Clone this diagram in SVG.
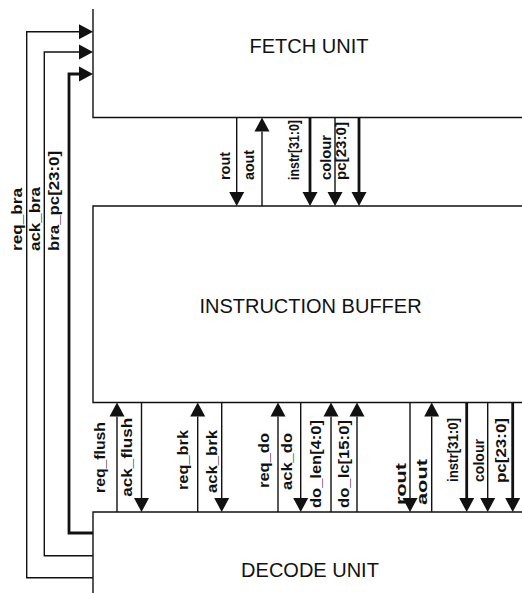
<svg xmlns="http://www.w3.org/2000/svg" width="522" height="593" viewBox="0 0 522 593">
<style>
.box{fill:none;stroke:#111;stroke-width:1.4}
.w{fill:none;stroke:#111;stroke-width:1.4}
.bus{fill:none;stroke:#111;stroke-width:2.8}
.lab{font-family:"Liberation Sans",Arial,sans-serif;font-size:15px;font-weight:bold;fill:#111}
.title{font-family:"Liberation Sans",Arial,sans-serif;font-size:20px;fill:#111;text-anchor:middle}
</style>
<defs>
<marker id="ah" markerUnits="userSpaceOnUse" markerWidth="16" markerHeight="16" refX="0" refY="7.5" orient="auto" overflow="visible">
<path d="M0,0 L14,7.5 L0,15 z" fill="#111"/>
</marker>
</defs>
<rect width="522" height="593" fill="#fff"/>
<g id="fetch">
<path class="box" d="M93,9 V117.5 H522"/>
<text class="title" x="309" y="52.5">FETCH UNIT</text>
</g>
<g id="buffer">
<path class="box" d="M522,206 H93 V402.5 H522"/>
<text class="title" x="310.5" y="312.5">INSTRUCTION BUFFER</text>
</g>
<g id="decode">
<path class="box" d="M522,512 H93 V593"/>
<text class="title" x="310" y="577">DECODE UNIT</text>
</g>
<g id="connectors">
<path class="w" d="M93,577.7 H26.7 V31.7 H79" marker-end="url(#ah)"/>
<path class="w" d="M93,555.7 H44.3 V52 H79" marker-end="url(#ah)"/>
<path class="bus" d="M93,533 H69 V74 H79" marker-end="url(#ah)"/>
<path class="w" d="M236.7,117.5 V192" marker-end="url(#ah)"/>
<path class="w" d="M262,206 V131.5" marker-end="url(#ah)"/>
<path class="bus" d="M310,117.5 V192" marker-end="url(#ah)"/>
<path class="w" d="M335,117.5 V192" marker-end="url(#ah)"/>
<path class="bus" d="M359,117.5 V192" marker-end="url(#ah)"/>
<path class="w" d="M117,512 V416.5" marker-end="url(#ah)"/>
<path class="w" d="M141.5,402.5 V498" marker-end="url(#ah)"/>
<path class="w" d="M197.7,512 V416.5" marker-end="url(#ah)"/>
<path class="w" d="M221.7,402.5 V498" marker-end="url(#ah)"/>
<path class="w" d="M278,512 V416.5" marker-end="url(#ah)"/>
<path class="w" d="M300.7,402.5 V498" marker-end="url(#ah)"/>
<path class="w" d="M331,512 V416.5" marker-end="url(#ah)"/>
<path class="w" d="M357,512 V416.5" marker-end="url(#ah)"/>
<path class="w" d="M410,402.5 V498" marker-end="url(#ah)"/>
<path class="w" d="M431.7,512 V416.5" marker-end="url(#ah)"/>
<path class="bus" d="M466.7,402.5 V498" marker-end="url(#ah)"/>
<path class="w" d="M487.7,402.5 V498" marker-end="url(#ah)"/>
<path class="bus" d="M512.7,402.5 V498" marker-end="url(#ah)"/>
</g>
<g id="labels">
<text class="lab" transform="translate(22,251) rotate(-90)" textLength="63" lengthAdjust="spacingAndGlyphs">req_bra</text>
<text class="lab" transform="translate(39.5,251) rotate(-90)" textLength="64" lengthAdjust="spacingAndGlyphs">ack_bra</text>
<text class="lab" transform="translate(58.5,251) rotate(-90)" textLength="100" lengthAdjust="spacingAndGlyphs">bra_pc[23:0]</text>
<text class="lab" transform="translate(230,180) rotate(-90)" textLength="28" lengthAdjust="spacingAndGlyphs">rout</text>
<text class="lab" transform="translate(254,180) rotate(-90)" textLength="30" lengthAdjust="spacingAndGlyphs">aout</text>
<text class="lab" transform="translate(298.5,180) rotate(-90)" textLength="60" lengthAdjust="spacingAndGlyphs">instr[31:0]</text>
<text class="lab" transform="translate(330.5,180) rotate(-90)" textLength="45" lengthAdjust="spacingAndGlyphs">colour</text>
<text class="lab" transform="translate(346,180) rotate(-90)" textLength="58" lengthAdjust="spacingAndGlyphs">pc[23:0]</text>
<text class="lab" transform="translate(105,493) rotate(-90)" textLength="71" lengthAdjust="spacingAndGlyphs">req_flush</text>
<text class="lab" transform="translate(132,496.7) rotate(-90)" textLength="79" lengthAdjust="spacingAndGlyphs">ack_flush</text>
<text class="lab" transform="translate(187.5,490) rotate(-90)" textLength="60" lengthAdjust="spacingAndGlyphs">req_brk</text>
<text class="lab" transform="translate(217,493) rotate(-90)" textLength="63" lengthAdjust="spacingAndGlyphs">ack_brk</text>
<text class="lab" transform="translate(269,488) rotate(-90)" textLength="55" lengthAdjust="spacingAndGlyphs">req_do</text>
<text class="lab" transform="translate(292,490) rotate(-90)" textLength="57" lengthAdjust="spacingAndGlyphs">ack_do</text>
<text class="lab" transform="translate(320.5,508) rotate(-90)" textLength="88" lengthAdjust="spacingAndGlyphs">do_len[4:0]</text>
<text class="lab" transform="translate(348.5,508) rotate(-90)" textLength="88" lengthAdjust="spacingAndGlyphs">do_lc[15:0]</text>
<text class="lab" transform="translate(405.5,505) rotate(-90)" textLength="42" lengthAdjust="spacingAndGlyphs">rout</text>
<text class="lab" transform="translate(427,505) rotate(-90)" textLength="46" lengthAdjust="spacingAndGlyphs">aout</text>
<text class="lab" transform="translate(457.5,482) rotate(-90)" textLength="64" lengthAdjust="spacingAndGlyphs">instr[31:0]</text>
<text class="lab" transform="translate(483.5,482) rotate(-90)" textLength="43" lengthAdjust="spacingAndGlyphs">colour</text>
<text class="lab" transform="translate(505.5,483) rotate(-90)" textLength="65" lengthAdjust="spacingAndGlyphs">pc[23:0]</text>
</g>
</svg>
